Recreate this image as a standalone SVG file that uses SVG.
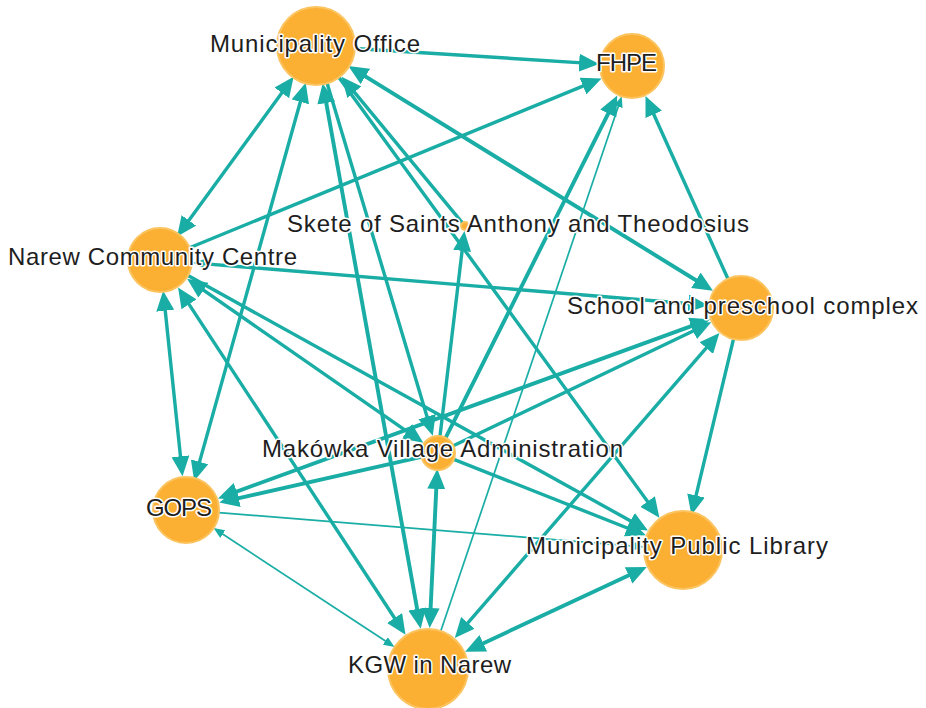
<svg xmlns="http://www.w3.org/2000/svg" width="926" height="708" viewBox="0 0 926 708">
<defs>
<style>
.e{stroke:#19ada5;stroke-width:3.4;fill:none}
.t{stroke-width:1.7}
.k{stroke-width:3.9}
.n{fill:#fbb034;stroke:#fcc460;stroke-width:2}
.l{font-family:"Liberation Sans",Arial,sans-serif;font-size:24px;fill:#1e1e1e;stroke:#fff;stroke-width:3;paint-order:stroke;stroke-linejoin:round}
</style>
<marker id="ah" markerUnits="userSpaceOnUse" markerWidth="20" markerHeight="18" refX="11" refY="9" orient="auto-start-reverse" viewBox="0 0 20 18"><path d="M0,0 L20,9 L0,18 z" fill="#19ada5"/></marker>
<marker id="as" markerUnits="userSpaceOnUse" markerWidth="11" markerHeight="9" refX="7" refY="4.5" orient="auto-start-reverse" viewBox="0 0 11 9"><path d="M0,0 L11,4.5 L0,9 z" fill="#19ada5"/></marker>
</defs>
<rect width="926" height="708" fill="#fff"/>
<g id="edges">
<line class="e" x1="354.9" y1="48.5" x2="590.1" y2="63.4" marker-end="url(#ah)"/>
<line class="e" x1="189.6" y1="247.8" x2="593.2" y2="81.9" marker-end="url(#ah)"/>
<line class="e k" x1="445.6" y1="437.8" x2="613.2" y2="103.6" marker-end="url(#ah)"/>
<line class="e t" x1="440.8" y1="631.1" x2="620.5" y2="100.1" marker-end="url(#as)"/>
<line class="e" x1="727.9" y1="278.8" x2="649.2" y2="104.3" marker-end="url(#ah)"/>
<line class="e" x1="288.3" y1="84" x2="182.4" y2="229.3" marker-start="url(#ah)" marker-end="url(#ah)"/>
<line class="e" x1="303.3" y1="91.3" x2="196.6" y2="472.4" marker-start="url(#ah)" marker-end="url(#ah)"/>
<line class="e" x1="164.1" y1="299.8" x2="181.6" y2="467.2" marker-start="url(#ah)" marker-end="url(#ah)"/>
<line class="e k" x1="324.3" y1="92.2" x2="419.1" y2="619.8" marker-start="url(#ah)" marker-end="url(#ah)"/>
<line class="e" x1="327.2" y1="83.4" x2="430.2" y2="427.2" marker-end="url(#ah)"/>
<line class="e" x1="462.4" y1="222.9" x2="347.3" y2="83.7" marker-end="url(#ah)"/>
<line class="e" x1="339" y1="77.5" x2="654.1" y2="510.4" marker-end="url(#ah)"/>
<line class="e k" x1="356" y1="70.7" x2="705.3" y2="286" marker-start="url(#ah)" marker-end="url(#ah)"/>
<line class="e" x1="440" y1="436.1" x2="463.4" y2="239.9" marker-end="url(#ah)"/>
<line class="e" x1="196.9" y1="263.1" x2="699.1" y2="304.5" marker-start="url(#as)" marker-end="url(#ah)"/>
<line class="e" x1="194.5" y1="283.9" x2="415.9" y2="437.6" marker-start="url(#ah)" marker-end="url(#ah)"/>
<line class="e" x1="188" y1="275.5" x2="640.1" y2="526.2" marker-end="url(#ah)"/>
<line class="e" x1="183" y1="295.1" x2="400.6" y2="627.2" marker-start="url(#ah)" marker-end="url(#ah)"/>
<line class="e" x1="453.3" y1="445.7" x2="703.1" y2="326.2" marker-end="url(#ah)"/>
<line class="e k" x1="701.6" y1="322.4" x2="226.4" y2="495.3" marker-start="url(#ah)" marker-end="url(#ah)"/>
<line class="e k" x1="421.4" y1="456.8" x2="228" y2="500.6" marker-end="url(#ah)"/>
<line class="e" x1="453.8" y1="459.3" x2="637.4" y2="532" marker-end="url(#ah)"/>
<line class="e t" x1="218.9" y1="512.6" x2="640.1" y2="546.6" marker-end="url(#as)"/>
<line class="e t" x1="216.9" y1="530.3" x2="391.2" y2="644.8" marker-start="url(#as)" marker-end="url(#as)"/>
<line class="e" x1="733.5" y1="339.1" x2="693.5" y2="506.2" marker-end="url(#ah)"/>
<line class="e k" x1="436.8" y1="478" x2="430.1" y2="619" marker-start="url(#ah)" marker-end="url(#ah)"/>
<line class="e" x1="460.7" y1="631.2" x2="713.5" y2="339.7" marker-start="url(#ah)" marker-end="url(#ah)"/>
<line class="e k" x1="473.3" y1="647.9" x2="638.6" y2="570.8" marker-start="url(#ah)" marker-end="url(#ah)"/>
</g>
<g id="node-mo"><circle class="n" cx="316" cy="46" r="39"/><text class="l" x="210" y="52" textLength="210" lengthAdjust="spacing">Municipality Office</text></g>
<g id="node-fhpe"><circle class="n" cx="632" cy="66" r="32"/><text class="l" x="596" y="71" textLength="61" lengthAdjust="spacing">FHPE</text></g>
<g id="node-ncc"><circle class="n" cx="160" cy="260" r="32"/><text class="l" x="8" y="265" textLength="289" lengthAdjust="spacing">Narew Community Centre</text></g>
<g id="node-skete"><circle class="n" cx="465" cy="226" r="4"/><text class="l" x="287" y="232" textLength="462" lengthAdjust="spacing">Skete of Saints Anthony and Theodosius</text></g>
<g id="node-school"><circle class="n" cx="741" cy="308" r="32"/><text class="l" x="567" y="314" textLength="351" lengthAdjust="spacing">School and preschool complex</text></g>
<g id="node-makowka"><circle class="n" cx="438" cy="453" r="17"/><text class="l" x="262" y="457" textLength="361" lengthAdjust="spacing">Makówka Village Administration</text></g>
<g id="node-gops"><circle class="n" cx="186" cy="510" r="33"/><text class="l" x="146" y="516" textLength="66" lengthAdjust="spacing">GOPS</text></g>
<g id="node-library"><circle class="n" cx="683" cy="550" r="39"/><text class="l" x="526" y="554" textLength="302" lengthAdjust="spacing">Municipality Public Library</text></g>
<g id="node-kgw"><circle class="n" cx="428" cy="669" r="40"/><text class="l" x="348" y="673" textLength="163" lengthAdjust="spacing">KGW in Narew</text></g>
</svg>
